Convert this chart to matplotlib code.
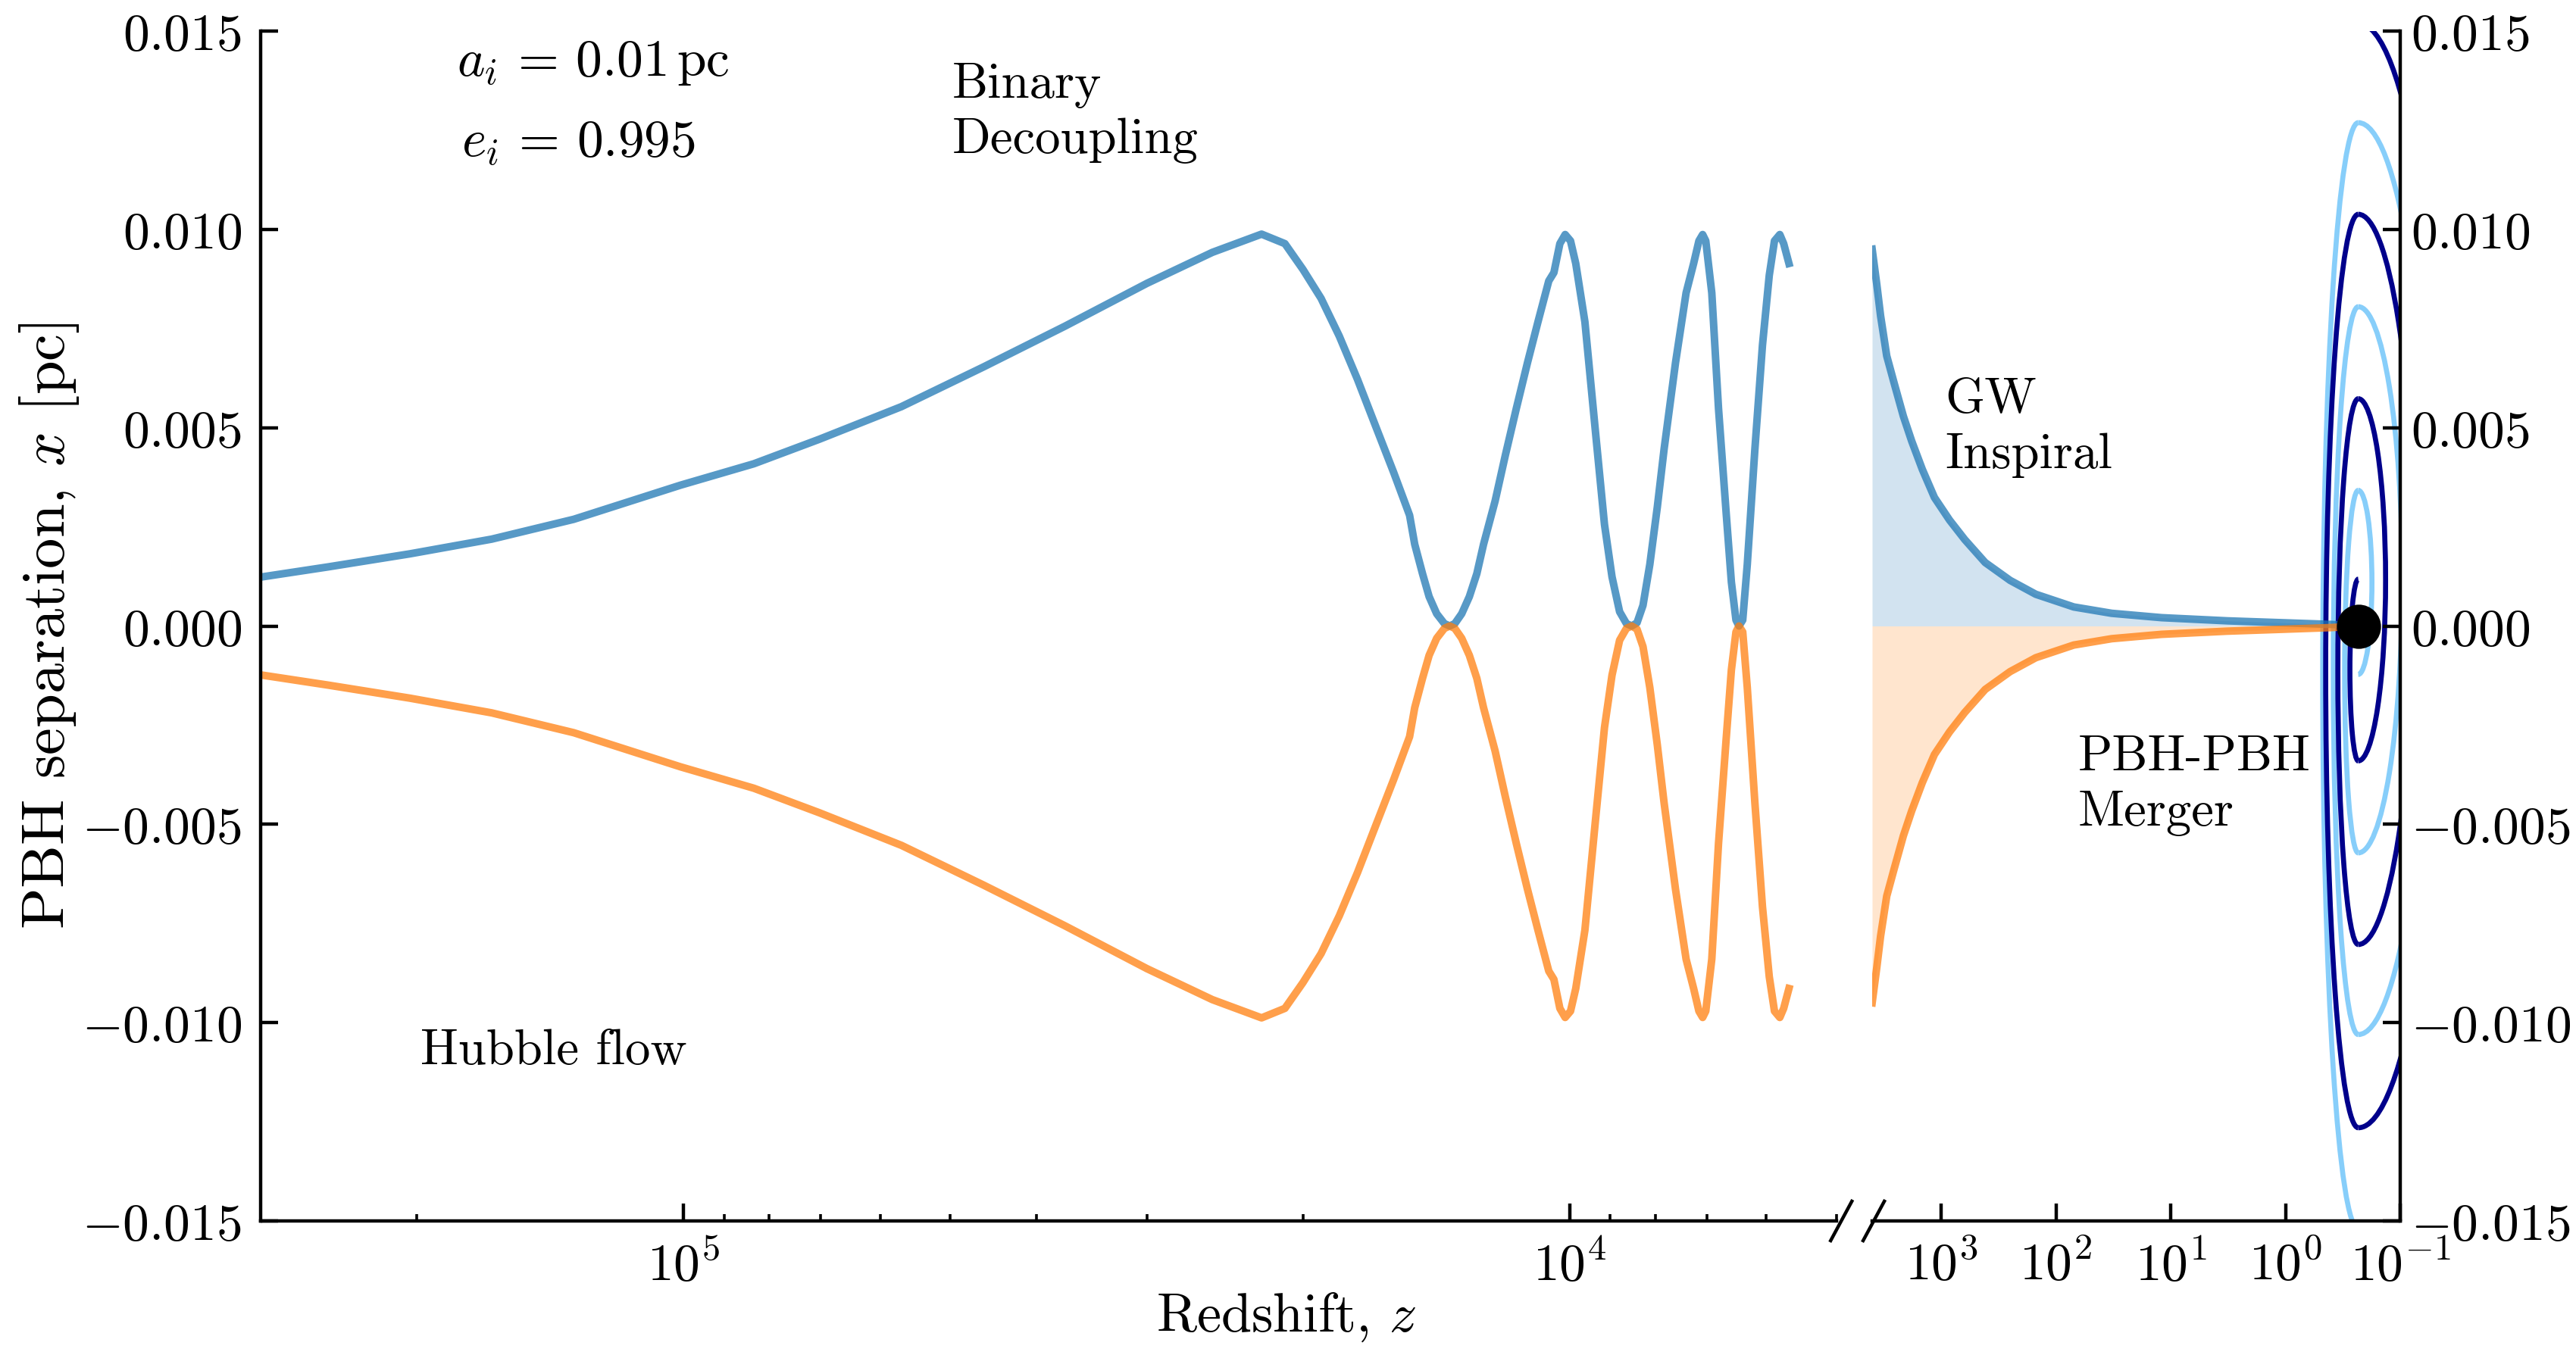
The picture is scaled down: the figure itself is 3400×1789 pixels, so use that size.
import numpy as np
import matplotlib
matplotlib.use("Agg")
import matplotlib.pyplot as plt
from matplotlib.patches import Arc
from matplotlib.ticker import LogLocator, NullFormatter, NullLocator

plt.rcParams.update({
    "font.family": "serif",
    "font.serif": ["cmr10"],
    "mathtext.fontset": "cm",
    "axes.formatter.use_mathtext": True,
})

# ---- early-time orbit (left panel), upper PBH; the lower one is the mirror
z_orbit = [298500, 251800, 203500, 164600, 133000, 100800, 83300, 70230, 56770,
           45880, 37110, 29990, 25310, 22270,
           20960, 20000, 19080, 18200, 17360, 16560, 15800, 15370, 15160, 14960,
           14660, 14410, 14130, 13850, 13660, 13480, 13240, 12980, 12730, 12510,
           12140, 11820, 11490, 11160, 10860, 10560, 10420, 10260, 10120, 9980,
           9845, 9614, 9354, 9137, 8960, 8785, 8630, 8513, 8397, 8267, 8122,
           7965, 7825, 7597, 7391, 7248, 7149, 7080, 7023, 6914, 6794, 6661,
           6571, 6493, 6442, 6380, 6305, 6181, 6061, 5955, 5875, 5794, 5736, 5658]
x_orbit = [0.00124, 0.00149, 0.00182, 0.00219, 0.00269, 0.00355, 0.00409, 0.00471,
           0.00553, 0.00653, 0.00756, 0.00864, 0.00942, 0.00988,
           0.00964, 0.00899, 0.00826, 0.00731, 0.00622, 0.00504, 0.00387, 0.00315,
           0.00279, 0.00206, 0.00132, 0.00074, 0.00031, 0.00006, 0.0, 0.00006,
           0.00031, 0.00074, 0.00132, 0.00206, 0.00315, 0.00431, 0.00548, 0.00664,
           0.00767, 0.0087, 0.00891, 0.00964, 0.00987, 0.00971, 0.00914, 0.00767,
           0.0049, 0.00256, 0.00124, 0.00036, 0.00006, 0.0, 0.00008, 0.00052,
           0.00155, 0.003, 0.00447, 0.00664, 0.0084, 0.00914, 0.00971, 0.00987,
           0.00971, 0.0084, 0.00548, 0.00286, 0.00111, 0.00015, 0.0, 0.00015,
           0.00155, 0.00447, 0.00708, 0.00884, 0.00971, 0.00987, 0.00964, 0.00914]

# ---- GW inspiral (right panel)
z_insp = [4000, 3640, 3377, 2985, 2565, 2138, 1808, 1462, 1146, 846, 624, 414,
          251, 150, 70, 32.7, 12, 3.2, 1.0, 0.4, 0.232]
x_insp = [0.0095, 0.0086, 0.00782, 0.00681, 0.00611, 0.00529, 0.00466, 0.00395,
          0.00324, 0.00267, 0.00218, 0.0016, 0.00115, 0.0008, 0.00048, 0.00032,
          0.00021, 0.00013, 0.00008, 0.00004, 0.0]
z_merge = 0.232

# ---- merger spirals: successive turning points and half-widths (decades of z)
dark_peaks = [0.0152, -0.01265, 0.01038, -0.00803, 0.00573, -0.0034, 0.00118]
dark_widths = [0.759, 0.284, 0.495, 0.178, 0.238, 0.073]
dark_first = "right"
dark_hook = (0.04, 0.0012, 50, 90)       # half-width, height, theta1, theta2
light_peaks = [-0.0152, 0.01269, -0.0103, 0.00805, -0.00572, 0.00342, -0.00122]
light_widths = [0.310, 0.627, 0.218, 0.383, 0.119, 0.119]
light_first = "left"
light_hook = (0.04, 0.0012, 230, 270)

blue, orange = "tab:blue", "tab:orange"

W, H = 3400, 1790
fig = plt.figure(figsize=(W / 200, H / 200), dpi=200)
bot, top = 1 - 1613 / H, 1 - 42 / H
ax_l = fig.add_axes([344 / W, bot, (2424 - 344) / W, top - bot])
ax_r = fig.add_axes([2471 / W, bot, (3168 - 2471) / W, top - bot])

ytk = [-0.015, -0.010, -0.005, 0.0, 0.005, 0.010, 0.015]
for ax in (ax_l, ax_r):
    ax.set_xscale("log")
    ax.set_ylim(-0.015, 0.015)
    ax.set_yticks(ytk)
    for s in ax.spines.values():
        s.set_linewidth(1.6)
    ax.tick_params(which="major", direction="in", length=8.4, width=1.6,
                   labelsize=25)
    ax.tick_params(which="minor", direction="in", length=3.3, width=1.3)
    ax.tick_params(axis="x", pad=9)

# left panel
ax_l.set_xlim(3e5, 5e3)
ax_l.spines["top"].set_visible(False)
ax_l.spines["right"].set_visible(False)
ax_l.set_xticks([1e5, 1e4])
ax_l.xaxis.set_minor_locator(LogLocator(base=10, subs=np.arange(2, 10)))
ax_l.xaxis.set_minor_formatter(NullFormatter())
ax_l.tick_params(axis="y", pad=9)
xo = np.array(x_orbit)
ax_l.plot(z_orbit, xo, color=blue, alpha=0.75, lw=3.6)
ax_l.plot(z_orbit, -xo, color=orange, alpha=0.75, lw=3.6)

# right panel
ax_r.set_xlim(4e3, 1e-1)
ax_r.spines["top"].set_visible(False)
ax_r.spines["left"].set_visible(False)
ax_r.set_xticks([1e3, 1e2, 1e1, 1e0, 1e-1])
ax_r.xaxis.set_minor_locator(NullLocator())
ax_r.yaxis.tick_right()
ax_r.tick_params(axis="y", which="both", left=False, right=True,
                 labelleft=False, labelright=True, pad=5)
xi = np.array(x_insp)
ax_r.fill_between(z_insp, 0, xi, color=blue, alpha=0.2, lw=0)
ax_r.fill_between(z_insp, 0, -xi, color=orange, alpha=0.2, lw=0)
ax_r.plot(z_insp, xi, color=blue, alpha=0.75, lw=3.6, zorder=3)
ax_r.plot(z_insp, -xi, color=orange, alpha=0.75, lw=3.6, zorder=3)
ax_r.plot([z_merge], [0], "o", color="k", ms=20, zorder=6, clip_on=False)

# spiral overlay in -log10(z) so arcs stay smooth
ax_sp = fig.add_axes(ax_r.get_position().bounds)
ax_sp.set_zorder(0)
ax_r.set_zorder(1)
ax_r.patch.set_visible(False)
ax_sp.set_xlim(-np.log10(4e3), 1)
ax_sp.set_ylim(-0.015, 0.015)
ax_sp.axis("off")
xc = -np.log10(z_merge)


def draw_spiral(peaks, widths, side, hook, color):
    for y0, y1, w in zip(peaks[:-1], peaks[1:], widths):
        t1, t2 = (-90, 90) if side == "right" else (90, 270)
        ax_sp.add_patch(Arc((xc, (y0 + y1) / 2), 2 * w, abs(y0 - y1),
                            theta1=t1, theta2=t2, color=color, lw=2.4))
        side = "left" if side == "right" else "right"
    hw, hh, t1, t2 = hook
    yc = peaks[-1] - hh / 2 if peaks[-1] > 0 else peaks[-1] + hh / 2
    ax_sp.add_patch(Arc((xc, yc), 2 * hw, hh, theta1=t1, theta2=t2,
                        color=color, lw=2.4))


draw_spiral(light_peaks, light_widths, light_first, light_hook, "lightskyblue")
draw_spiral(dark_peaks, dark_widths, dark_first, dark_hook, "darkblue")

# broken-axis marks
kw = dict(color="k", lw=1.6, clip_on=False)
dxl, dxr, dy = 14 / 2080, 14 / 697, 26 / 1571
ax_l.plot([1.003 - dxl, 1.003 + dxl], [-dy, dy], transform=ax_l.transAxes, **kw)
ax_r.plot([0.003 - dxr, 0.003 + dxr], [-dy, dy], transform=ax_r.transAxes, **kw)


def ftext(px, py, s, **k):
    fig.text(px / W, 1 - py / H, s, **k)


ftext(603, 100, r"$a_i\,=\,0.01\,\mathrm{pc}$", fontsize=25, va="baseline")
ftext(609, 207, r"$e_i\,=\,0.995$", fontsize=25, va="baseline")
ftext(1257, 129, "Binary", fontsize=24, va="baseline")
ftext(1257, 202, "Decoupling", fontsize=24, va="baseline")
ftext(555, 1405, "Hubble flow", fontsize=24, va="baseline")
ftext(2567, 545, "GW", fontsize=24, va="baseline")
ftext(2567, 618, "Inspiral", fontsize=24, va="baseline")
ftext(2743, 1017, "PBH-PBH", fontsize=24, va="baseline")
ftext(2743, 1090, "Merger", fontsize=24, va="baseline")
ftext(65, 826, r"PBH separation, $x$ [pc]", fontsize=29, rotation=90,
      ha="center", va="center")
ftext(1698, 1739, r"Redshift, $z$", fontsize=26, ha="center", va="center")

fig.savefig("out.png", dpi=200)
